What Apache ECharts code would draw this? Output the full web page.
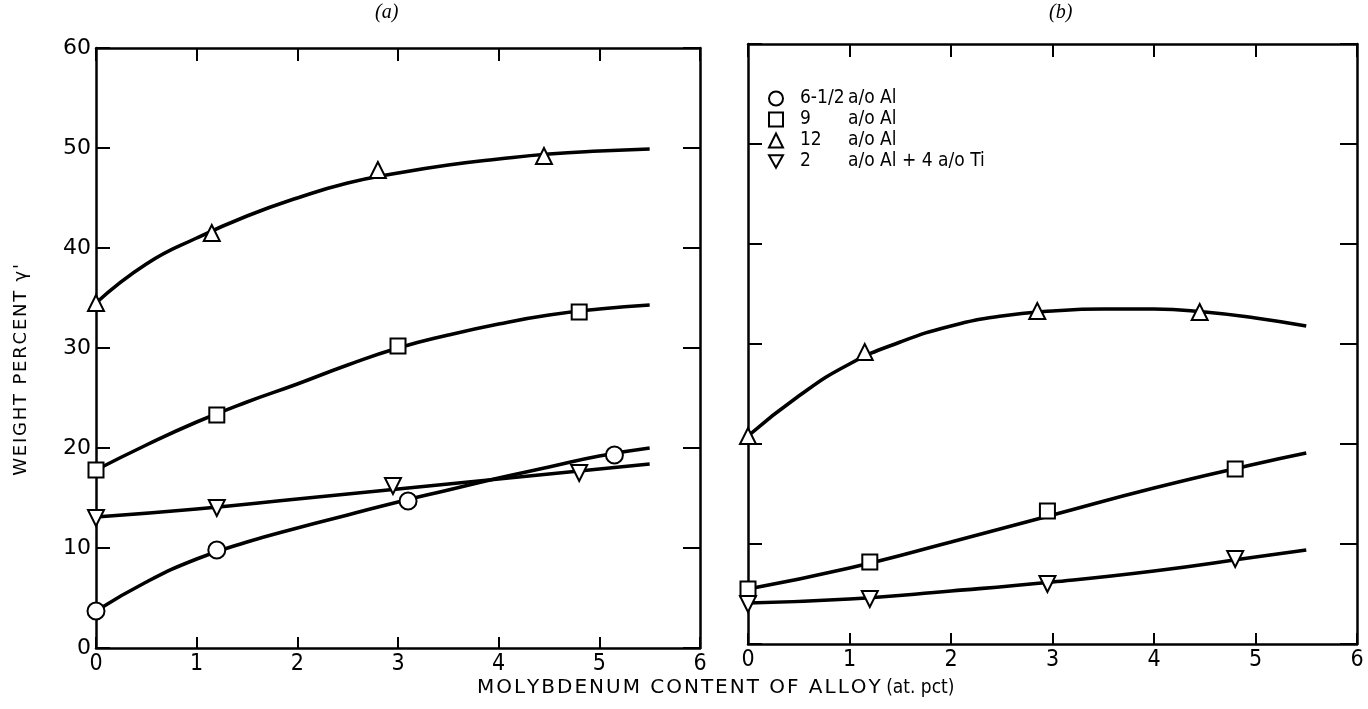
<!DOCTYPE html>
<html>
<head>
<meta charset="utf-8">
<script src="https://cdn.jsdelivr.net/npm/echarts@6/dist/echarts.min.js"></script>
<style>
  html, body { margin: 0; padding: 0; background: #fff; }
  #chart { width: 1368px; height: 709px; }
</style>
</head>
<body>
<div id="chart"></div>
<script>
// Data: [Mo at. pct, weight percent gamma']
// Panel (a) - measured points
const aCircle = [[0, 3.7], [1.2, 9.8], [3.1, 14.7], [5.15, 19.3]];
const aSquare = [[0, 17.8], [1.2, 23.3], [3.0, 30.2], [4.8, 33.6]];
const aTriangle = [[0, 34.5], [1.15, 41.5], [2.8, 47.8], [4.45, 49.2]];
const aInverted = [[0, 13.0], [1.2, 14.0], [2.95, 16.2], [4.8, 17.5]];

// Panel (a) - faired curves
const aCircleCurve = [[0, 3.7], [0.5, 6.6], [1, 8.9], [1.5, 10.6], [2, 12.0], [2.5, 13.3], [3, 14.6], [3.5, 15.8], [4, 17.0], [4.5, 18.1], [5, 19.2], [5.5, 20.0]];
const aSquareCurve = [[0, 17.8], [0.5, 20.3], [1, 22.6], [1.5, 24.6], [2, 26.4], [2.5, 28.3], [3, 30.0], [3.5, 31.3], [4, 32.4], [4.5, 33.3], [5, 33.9], [5.5, 34.3]];
const aTriangleCurve = [[0, 34.5], [0.5, 38.4], [1, 41.0], [1.5, 43.2], [2, 45.0], [2.5, 46.5], [3, 47.5], [3.5, 48.3], [4, 48.9], [4.5, 49.4], [5, 49.7], [5.5, 49.9]];
const aInvertedCurve = [[0, 13.1], [1, 13.9], [2, 14.9], [3, 15.9], [4, 16.9], [5, 17.9], [5.5, 18.4]];

// Panel (b) - measured points
const bSquare = [[0, 5.5], [1.2, 8.2], [2.95, 13.3], [4.8, 17.5]];
const bTriangle = [[0, 20.8], [1.15, 29.2], [2.85, 33.3], [4.45, 33.2]];
const bInverted = [[0, 4.0], [1.2, 4.5], [2.95, 6.0], [4.8, 8.5]];

// Panel (b) - faired curves
const bSquareCurve = [[0, 5.5], [1, 7.6], [2, 10.2], [3, 12.9], [4, 15.6], [5, 18.0], [5.5, 19.1]];
const bTriangleCurve = [[0, 20.8], [0.5, 24.8], [1, 28.0], [1.5, 30.2], [2, 31.8], [2.5, 32.8], [3, 33.3], [3.5, 33.5], [4, 33.5], [4.5, 33.2], [5, 32.6], [5.5, 31.8]];
const bInvertedCurve = [[0, 4.1], [1, 4.5], [2, 5.3], [3, 6.2], [4, 7.3], [5, 8.7], [5.5, 9.4]];

const xTicks = [0, 1, 2, 3, 4, 5, 6];
const yTicks = [0, 10, 20, 30, 40, 50, 60];

const legendNames = ['6-1/2|a/o Al', '9|a/o Al', '12|a/o Al', '2|a/o Al + 4 a/o Ti'];

const FONT = "'DejaVu Sans Condensed', 'Liberation Sans Narrow', sans-serif";
const WIDE = "'DejaVu Sans', sans-serif";

// spread letters a little, like the typewritten captions
function spaced(s) {
    return s.split('').join('\u200A');
}

const chart = echarts.init(document.getElementById('chart'));

function curve(points, grid) {
    return {
        type: 'line',
        xAxisIndex: grid * 2,
        yAxisIndex: grid * 2,
        data: points,
        smooth: true,
        showSymbol: false,
        symbol: 'none',
        silent: true,
        lineStyle: { color: '#000', width: 3.6 },
        z: 2
    };
}

function marks(name, points, grid, symbol, rotate, size) {
    return {
        name: name,
        type: 'scatter',
        xAxisIndex: grid * 2,
        yAxisIndex: grid * 2,
        data: points,
        symbol: symbol,
        symbolRotate: rotate,
        symbolSize: size,
        clip: false,
        itemStyle: { color: '#fff', borderColor: '#000', borderWidth: 2, opacity: 1 },
        z: 5
    };
}

function xAxes(grid) {
    const line = { onZero: false, lineStyle: { color: '#000', width: 2.5 } };
    return [
        {
            type: 'value', gridIndex: grid, position: 'bottom',
            min: 0, max: 6, interval: 1,
            axisLine: line,
            axisTick: { inside: true, length: 11, lineStyle: { color: '#000', width: 2 } },
            axisLabel: {
                color: '#000', fontFamily: FONT, fontSize: 23, margin: 5,
                formatter: v => xTicks.includes(v) ? String(v) : ''
            },
            splitLine: { show: false }
        },
        {
            type: 'value', gridIndex: grid, position: 'top',
            min: 0, max: 6, interval: 1,
            axisLine: line,
            axisTick: { inside: true, length: 13, lineStyle: { color: '#000', width: 2 } },
            axisLabel: { show: false },
            splitLine: { show: false }
        }
    ];
}

function yAxes(grid, labels) {
    const line = { onZero: false, lineStyle: { color: '#000', width: 2.5 } };
    return [
        {
            type: 'value', gridIndex: grid, position: 'left',
            min: 0, max: 60, interval: 10,
            axisLine: line,
            axisTick: { inside: true, length: 14, lineStyle: { color: '#000', width: 2 } },
            axisLabel: labels ? {
                color: '#000', fontFamily: WIDE, fontSize: 22, margin: 5,
                formatter: v => yTicks.includes(v) ? String(v) : ''
            } : { show: false },
            splitLine: { show: false }
        },
        {
            type: 'value', gridIndex: grid, position: 'right',
            min: 0, max: 60, interval: 10,
            axisLine: line,
            axisTick: { inside: true, length: 17, lineStyle: { color: '#000', width: 2 } },
            axisLabel: { show: false },
            splitLine: { show: false }
        }
    ];
}

const option = {
    backgroundColor: '#fff',
    animation: false,
    grid: [
        { left: 96, top: 48, width: 604, height: 600 },
        { left: 748, top: 44, width: 609, height: 600 }
    ],
    xAxis: xAxes(0).concat(xAxes(1)),
    yAxis: yAxes(0, true).concat(yAxes(1, false)),
    legend: {
        left: 763,
        top: 83,
        orient: 'vertical',
        itemGap: 0,
        itemWidth: 14,
        itemHeight: 14,
        selectedMode: false,
        data: [
            { name: legendNames[0] },
            { name: legendNames[1] },
            { name: legendNames[2] },
            { name: legendNames[3], icon: 'path://M0,0L20,0L10,18Z' }
        ],
        formatter: name => {
            const parts = name.split('|');
            return '{n|' + parts[0] + '}{t|' + parts[1] + '}';
        },
        textStyle: {
            color: '#000',
            fontFamily: FONT,
            fontSize: 19,
            lineHeight: 21,
            rich: {
                n: { width: 48, padding: [0, 0, 0, 12], fontFamily: FONT, fontSize: 19, lineHeight: 21, color: '#000' },
                t: { fontFamily: FONT, fontSize: 19, lineHeight: 21, color: '#000' }
            }
        }
    },
    graphic: [
        {
            type: 'text', left: 375, top: 3,
            style: { text: '(a)', font: 'italic 20px "Liberation Serif", serif', fill: '#000' }
        },
        {
            type: 'text', left: 1049, top: 3,
            style: { text: '(b)', font: 'italic 20px "Liberation Serif", serif', fill: '#000' }
        },
        {
            type: 'text', left: 477, top: 678,
            style: {
                text: '{m|' + spaced('MOLYBDENUM CONTENT OF ALLOY') + '}{p| (at. pct)}',
                rich: {
                    m: { fontFamily: WIDE, fontSize: 20, fill: '#000' },
                    p: { fontFamily: FONT, fontSize: 19, fill: '#000' }
                }
            }
        },
        {
            type: 'text', left: 12, top: 264,
            rotation: Math.PI / 2,
            originX: 0, originY: 0,
            style: {
                text: spaced("WEIGHT PERCENT \u03b3'"),
                font: '18px "DejaVu Sans", sans-serif',
                fill: '#000'
            }
        }
    ],
    series: [
        curve(aCircleCurve, 0),
        curve(aSquareCurve, 0),
        curve(aTriangleCurve, 0),
        curve(aInvertedCurve, 0),
        curve(bSquareCurve, 1),
        curve(bTriangleCurve, 1),
        curve(bInvertedCurve, 1),
        marks(legendNames[0], aCircle, 0, 'circle', 0, 17),
        marks(legendNames[1], aSquare, 0, 'rect', 0, 15),
        marks(legendNames[2], aTriangle, 0, 'triangle', 0, 16),
        marks(legendNames[3], aInverted, 0, 'triangle', 180, 16),
        marks(legendNames[1], bSquare, 1, 'rect', 0, 15),
        marks(legendNames[2], bTriangle, 1, 'triangle', 0, 16),
        marks(legendNames[3], bInverted, 1, 'triangle', 180, 16)
    ]
};

chart.setOption(option);
</script>
</body>
</html>
